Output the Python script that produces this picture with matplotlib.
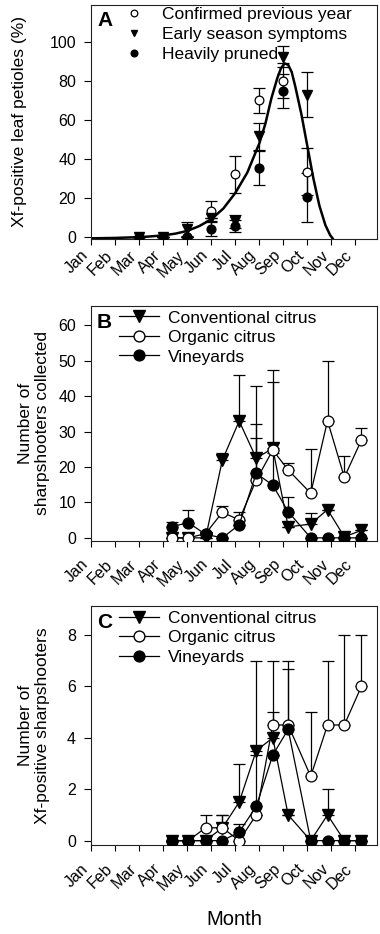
import matplotlib
matplotlib.use("Agg")
import matplotlib.pyplot as plt
from matplotlib.lines import Line2D

plt.rcParams['font.family'] = ['Liberation Sans', 'DejaVu Sans']

# ======= Data =======
months = ["Jan", "Feb", "Mar", "Apr", "May", "Jun",
          "Jul", "Aug", "Sep", "Oct", "Nov", "Dec"]

# Panel A: monthly sampling (Mar..Oct), % Xf-positive petioles
a_x = [3, 4, 5, 6, 7, 8, 9, 10]
a_confirmed = [0, 0, 0, 13, 32, 70, 80, 33.5]
a_confirmed_err = [0, 0, 0, 5.2, 9.3, 6.3, 9.0, 12.2]
a_early = [0, 0, 4, 9.5, 8, 51.5, 92.5, 73]
a_early_err = [0, 0, 3.5, 0, 3.4, 7.0, 5.2, 11.5]
a_pruned = [0, 0, 0, 4.2, 5.5, 35.3, 75, 20.2]
a_pruned_err = [0, 0, 0, 3.7, 3.0, 8.5, 8.8, 12.7]

# fitted curve
curve_x = [1.0, 2.0, 3.0, 3.5, 4.0, 4.5, 5.0, 5.5, 6.0, 6.5, 7.0, 7.5, 8.0,
           8.25, 8.5, 8.75, 8.9, 9.05, 9.2, 9.35, 9.5, 9.75, 10.0, 10.25,
           10.5, 10.75, 10.95, 11.05]
curve_y = [-0.8, -0.6, -0.2, 0.2, 0.7, 1.6, 3.0, 5.5, 9.0, 14.5, 22.5, 33,
           48, 58, 71, 81.5, 86.5, 89.0, 88.3, 84.5, 77, 63, 46.5, 30,
           16, 6, 0.8, -0.8]

# Panels B and C: sampling dates (in month units)
bc_x = [4.37, 5.04, 5.76, 6.46, 7.16, 7.87, 8.56, 9.2, 10.14, 10.84, 11.54, 12.25]

b_conv = [0, 0, 0, 22, 33, 22.5, 25.3, 3.1, 3.9, 8.0, 0.3, 2.1]
b_conv_up = [0, 0, 0, 2.1, 13, 20.5, 22.1, 0, 3.1, 0, 0, 0]
b_org = [0, 0, 1.2, 7.2, 5.1, 16.3, 24.8, 19.2, 12.6, 33.1, 17.1, 27.6]
b_org_up = [0, 0, 0, 1.9, 2.2, 16, 19.3, 1.9, 12.5, 17, 6, 3.4]
b_vine = [3.2, 4.3, 1.0, 0, 3.7, 18.2, 14.9, 7.4, 0, 0, 0, 0]
b_vine_up = [1.4, 3.6, 0, 0, 0, 10, 9, 4.1, 0, 0, 0, 0]

c_conv = [0, 0, 0, 0.5, 1.5, 3.5, 4.0, 1.0, 0, 1.0, 0, 0]
c_conv_up = [0, 0, 0, 0.5, 1.5, 3.5, 3.0, 0, 0, 1.0, 0, 0]
c_org = [0, 0, 0.5, 0.5, 0, 1.0, 4.5, 4.5, 2.5, 4.5, 4.5, 6.0]
c_org_up = [0, 0, 0.5, 0.5, 0, 0, 0.5, 2.5, 2.5, 2.5, 3.5, 2.0]
c_vine = [0, 0, 0, 0, 0.33, 1.33, 3.33, 4.33, 0, 0, 0, 0]
c_vine_up = [0, 0, 0, 0, 0.33, 2.0, 0, 2.33, 0, 0, 0, 0]

# ======= Figure =======
W, H = 380, 934
fig = plt.figure(figsize=(W / 100, H / 100), dpi=100)


def px_axes(left, top, right, bottom):
    return fig.add_axes([left / W, 1 - bottom / H, (right - left) / W, (bottom - top) / H])


axA = px_axes(91.3, 5, 376.5, 238.7)
axB = px_axes(91.3, 306, 376.5, 540.7)
axC = px_axes(91.3, 606, 376.5, 845)

ebkw = dict(ecolor='black', elinewidth=0.9, capsize=4, capthick=0.9)


def style_axis(ax, ylim, yticks, xpad):
    ax.set_xlim(1, 12.88)
    ax.set_ylim(*ylim)
    ax.set_yticks(yticks)
    ax.set_xticks(range(1, 13))
    ax.set_xticklabels(months, rotation=45, ha='right', fontsize=11.5)
    ax.tick_params(axis='y', labelsize=11.5, length=5, width=0.8, pad=6)
    ax.tick_params(axis='x', length=4.5, width=0.8, pad=xpad)
    for s in ax.spines.values():
        s.set_linewidth(0.8)
        s.set_color('#222222')


# ---- Panel A ----
axA.plot(curve_x, curve_y, color='black', lw=1.8, zorder=2)
axA.errorbar(a_x, a_confirmed, yerr=a_confirmed_err, fmt='o', ms=6.3,
             mfc='white', mec='black', mew=0.9, zorder=3, **ebkw)
axA.errorbar(a_x, a_early, yerr=a_early_err, fmt='v', ms=6.5,
             mfc='black', mec='black', zorder=3, **ebkw)
axA.errorbar(a_x, a_pruned, yerr=a_pruned_err, fmt='o', ms=6.3,
             mfc='black', mec='black', zorder=3, **ebkw)
style_axis(axA, (-1, 119), range(0, 101, 20), 2)
axA.set_ylabel("Xf-positive leaf petioles (%)", fontsize=12.5)
hA = [Line2D([], [], ls='none', marker='o', ms=4.8, mfc='white', mec='black', mew=0.9),
      Line2D([], [], ls='none', marker='v', ms=5, mfc='black', mec='black'),
      Line2D([], [], ls='none', marker='o', ms=4.8, mfc='black', mec='black')]
axA.legend(hA, ["Confirmed previous year", "Early season symptoms", "Heavily pruned"],
           loc='upper left', bbox_to_anchor=(0.115, 0.995), frameon=False,
           fontsize=12.5, handlelength=1.0, handletextpad=1.15,
           labelspacing=0.28, borderpad=0.05, borderaxespad=0)
axA.text(0.02, 0.975, "A", transform=axA.transAxes, ha='left', va='top',
         fontsize=15, fontweight='bold')


# ---- Panels B and C ----
def series_panel(ax, conv, conv_up, org, org_up, vine, vine_up, letter):
    zeros = [0] * len(bc_x)
    ax.errorbar(bc_x, conv, yerr=[zeros, conv_up], fmt='-v', color='black', lw=0.9,
                ms=8, mfc='black', mec='black', zorder=3, **ebkw)
    ax.errorbar(bc_x, org, yerr=[zeros, org_up], fmt='-o', color='black', lw=0.9,
                ms=7.8, mfc='white', mec='black', mew=0.9, zorder=3, **ebkw)
    ax.errorbar(bc_x, vine, yerr=[zeros, vine_up], fmt='-o', color='black', lw=0.9,
                ms=7.8, mfc='black', mec='black', zorder=3, **ebkw)
    handles = [Line2D([], [], color='black', lw=0.9, marker='v', ms=8, mfc='black', mec='black'),
               Line2D([], [], color='black', lw=0.9, marker='o', ms=7.8, mfc='white', mec='black'),
               Line2D([], [], color='black', lw=0.9, marker='o', ms=7.8, mfc='black', mec='black')]
    ax.legend(handles, ["Conventional citrus", "Organic citrus", "Vineyards"],
              loc='upper left', bbox_to_anchor=(0.094, 0.985), frameon=False,
              fontsize=12.5, handlelength=2.3, handletextpad=0.5,
              labelspacing=0.25, borderpad=0.05, borderaxespad=0)
    ax.text(0.02, 0.972, letter, transform=ax.transAxes, ha='left', va='top',
            fontsize=15, fontweight='bold')


series_panel(axB, b_conv, b_conv_up, b_org, b_org_up, b_vine, b_vine_up, "B")
style_axis(axB, (-0.8, 65.5), range(0, 61, 10), 7)
axB.set_ylabel("Number of\nsharpshooters collected", fontsize=12.5, linespacing=1.15)

series_panel(axC, c_conv, c_conv_up, c_org, c_org_up, c_vine, c_vine_up, "C")
style_axis(axC, (-0.17, 9.13), range(0, 9, 2), 7)
axC.set_ylabel("Number of\nXf-positive sharpshooters", fontsize=12.5, linespacing=1.15)
axC.set_xlabel("Month", fontsize=14.5, labelpad=12)

axA.yaxis.set_label_coords(-0.225, 0.5)
axB.yaxis.set_label_coords(-0.145, 0.5)
axC.yaxis.set_label_coords(-0.145, 0.5)

fig.savefig("out.png", dpi=100)
